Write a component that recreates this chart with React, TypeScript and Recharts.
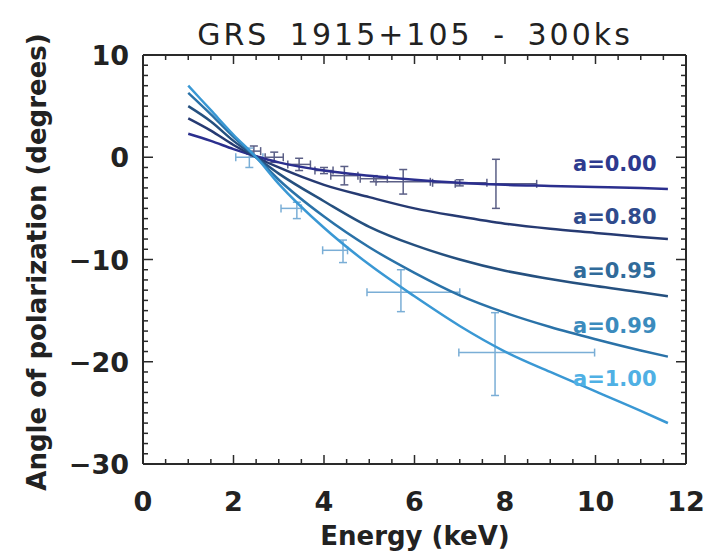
import React from "react";
import {
  ComposedChart,
  Line,
  Scatter,
  XAxis,
  YAxis,
  ErrorBar,
  ReferenceDot,
} from "recharts";

// model curves
const energies = [1, 1.5, 2, 2.5, 3, 4, 5, 6, 7, 8, 9, 10, 11, 11.6];
const angleA000 = [2.3, 1.6, 0.8, 0.1, -0.5, -1.3, -1.8, -2.2, -2.5, -2.7, -2.8, -2.9, -3.0, -3.1];
const angleA080 = [3.8, 2.6, 1.2, 0, -1.0, -2.7, -3.9, -5.0, -5.8, -6.5, -7.0, -7.4, -7.8, -8.0];
const angleA095 = [5.0, 3.5, 1.6, 0, -1.6, -4.3, -6.8, -8.6, -10.0, -11.1, -11.9, -12.6, -13.2, -13.6];
const angleA099 = [6.3, 4.2, 2.0, 0, -2.2, -5.8, -8.8, -11.3, -13.5, -15.2, -16.6, -17.8, -18.9, -19.5];
const angleA100 = [7.0, 4.6, 2.2, 0, -2.6, -6.9, -10.5, -13.6, -16.5, -19.0, -21.0, -22.9, -24.8, -26.0];

const spinLabels = ["a=0.00", "a=0.80", "a=0.95", "a=0.99", "a=1.00"];
const labelAngles = [-0.6, -5.7, -11.0, -16.4, -21.6];
const labelEnergy = 11.35;

// simulated points, a=1.00 (light)
const obsEnergy = [2.35, 3.4, 4.42, 5.7, 7.78];
const obsAngle = [0.0, -5.0, -9.1, -13.2, -19.1];
const obsEnergyErr = [[0.3, 0.3], [0.35, 0.1], [0.45, 0.1], [0.75, 1.3], [0.8, 2.2]];
const obsAngleErr = [[1.0, 0.9], [1.0, 0.6], [1.2, 1.0], [1.9, 2.2], [4.2, 3.9]];

// simulated points, a=0.00 (dark)
const refEnergy = [2.45, 2.9, 3.45, 4.0, 4.45, 5.1, 5.75, 7.0, 7.8];
const refAngle = [0.6, 0.0, -0.7, -1.3, -1.8, -2.1, -2.4, -2.5, -2.6];
const refEnergyErr = [0.15, 0.2, 0.25, 0.2, 0.3, 0.3, 0.6, 0.6, 0.9];
const refAngleErr = [0.5, 0.5, 0.6, 0.3, 0.9, 0.3, 1.2, 0.3, 2.4];

const xTicks = Array.from({ length: 25 }, (_, i) => i * 0.5);
const yTicks = Array.from({ length: 41 }, (_, i) => -30 + i);

const lineColors = ["#2b2f8e", "#263a72", "#25507f", "#2a72a8", "#3a98d4"];
const labelColors = ["#2d3a8e", "#2f4b8c", "#306b9a", "#3b8bbd", "#4fb0e4"];
const AXIS = "#2a2a2a";
const FONT = "'DejaVu Sans', sans-serif";

const curves = [angleA000, angleA080, angleA095, angleA099, angleA100].map((vals) =>
  energies.map((e, i) => ({ x: e, y: vals[i] }))
);
const obsData = obsEnergy.map((e, i) => ({
  x: e,
  y: obsAngle[i],
  ex: obsEnergyErr[i],
  ey: obsAngleErr[i],
}));
const refData = refEnergy.map((e, i) => ({
  x: e,
  y: refAngle[i],
  ex: refEnergyErr[i],
  ey: refAngleErr[i],
}));

const isMult = (v: number, m: number) => Math.abs(v / m - Math.round(v / m)) < 1e-6;

const BottomTick = (props: any) => {
  const { x, y, payload } = props;
  const major = isMult(payload.value, 2);
  return (
    <g>
      <line x1={x} x2={x} y1={y} y2={y - (major ? 9 : 5)} stroke={AXIS} strokeWidth={1.5} />
      {major && (
        <text x={x} y={y + 47} textAnchor="middle" fontFamily={FONT} fontWeight="bold" fontSize={27} fill="#222">
          {payload.value}
        </text>
      )}
    </g>
  );
};

const TopTick = (props: any) => {
  const { x, y, payload } = props;
  const major = isMult(payload.value, 2);
  return <line x1={x} x2={x} y1={y} y2={y + (major ? 9 : 5)} stroke={AXIS} strokeWidth={1.5} />;
};

const LeftTick = (props: any) => {
  const { x, y, payload } = props;
  const major = isMult(payload.value, 10);
  return (
    <g>
      <line x1={x} x2={x + (major ? 10 : 5)} y1={y} y2={y} stroke={AXIS} strokeWidth={1.5} />
      {major && (
        <text x={x - 14} y={y + 10} textAnchor="end" fontFamily={FONT} fontWeight="bold" fontSize={27} fill="#222">
          {payload.value < 0 ? `\u2212${-payload.value}` : payload.value}
        </text>
      )}
    </g>
  );
};

const RightTick = (props: any) => {
  const { x, y, payload } = props;
  const major = isMult(payload.value, 10);
  return <line x1={x} x2={x - (major ? 10 : 5)} y1={y} y2={y} stroke={AXIS} strokeWidth={1.5} />;
};

const noPoint = () => <g />;

export default function App() {
  return (
    <div style={{ position: "absolute", left: 0, top: 0, width: 714, height: 558, background: "#fff" }}>
      <ComposedChart width={714} height={558} margin={{ top: 0, right: 0, bottom: 0, left: 0 }}>
        <XAxis
          dataKey="x"
          type="number"
          domain={[0, 12]}
          ticks={xTicks}
          interval={0}
          height={94}
          tickSize={0}
          tickMargin={0}
          tickLine={false}
          axisLine={{ stroke: AXIS, strokeWidth: 2 }}
          tick={<BottomTick />}
          allowDataOverflow
        />
        <XAxis
          xAxisId="top"
          orientation="top"
          dataKey="x"
          type="number"
          domain={[0, 12]}
          ticks={xTicks}
          interval={0}
          height={55}
          tickSize={0}
          tickMargin={0}
          tickLine={false}
          axisLine={{ stroke: AXIS, strokeWidth: 2 }}
          tick={<TopTick />}
          allowDataOverflow
        />
        <YAxis
          type="number"
          domain={[-30, 10]}
          ticks={yTicks}
          interval={0}
          width={143}
          tickSize={0}
          tickMargin={0}
          tickLine={false}
          axisLine={{ stroke: AXIS, strokeWidth: 2 }}
          tick={<LeftTick />}
          allowDataOverflow
        />
        <YAxis
          yAxisId="right"
          orientation="right"
          type="number"
          domain={[-30, 10]}
          ticks={yTicks}
          interval={0}
          width={28}
          tickSize={0}
          tickMargin={0}
          tickLine={false}
          axisLine={{ stroke: AXIS, strokeWidth: 2 }}
          tick={<RightTick />}
          allowDataOverflow
        />
        <Scatter data={refData} dataKey="y" shape={noPoint} isAnimationActive={false}>
          <ErrorBar dataKey="ey" direction="y" width={4} stroke="#5b5f86" strokeWidth={1.5} />
          <ErrorBar dataKey="ex" direction="x" width={4} stroke="#5b5f86" strokeWidth={1.5} />
        </Scatter>
        <Scatter data={obsData} dataKey="y" shape={noPoint} isAnimationActive={false}>
          <ErrorBar dataKey="ey" direction="y" width={4} stroke="#7aaed6" strokeWidth={1.5} />
          <ErrorBar dataKey="ex" direction="x" width={4} stroke="#7aaed6" strokeWidth={1.5} />
        </Scatter>
        {curves.map((data, i) => (
          <Line
            key={spinLabels[i]}
            data={data}
            dataKey="y"
            type="monotone"
            stroke={lineColors[i]}
            strokeWidth={2.5}
            dot={false}
            activeDot={false}
            isAnimationActive={false}
          />
        ))}
        {spinLabels.map((label, i) => (
          <ReferenceDot
            key={label}
            x={labelEnergy}
            y={labelAngles[i]}
            r={0}
            ifOverflow="visible"
            label={(p: any) => (
              <text
                x={p.viewBox.x}
                y={p.viewBox.y + 8}
                textAnchor="end"
                fontFamily={FONT}
                fontWeight="bold"
                fontSize={21}
                fill={labelColors[i]}
              >
                {label}
              </text>
            )}
          />
        ))}
      </ComposedChart>
      <svg
        width={714}
        height={558}
        style={{ position: "absolute", left: 0, top: 0, pointerEvents: "none" }}
      >
        <text x={415} y={45} textAnchor="middle" fontFamily={FONT} fontSize={30} letterSpacing={3} wordSpacing={8} fill="#222">
          GRS 1915+105 - 300ks
        </text>
        <text x={415} y={545} textAnchor="middle" fontFamily={FONT} fontWeight="bold" fontSize={26} fill="#222">
          Energy (keV)
        </text>
        <text
          x={0}
          y={0}
          transform="translate(46 262) rotate(-90)"
          textAnchor="middle"
          fontFamily={FONT}
          fontWeight="bold"
          fontSize={26}
          fill="#222"
        >
          Angle of polarization (degrees)
        </text>
      </svg>
    </div>
  );
}
